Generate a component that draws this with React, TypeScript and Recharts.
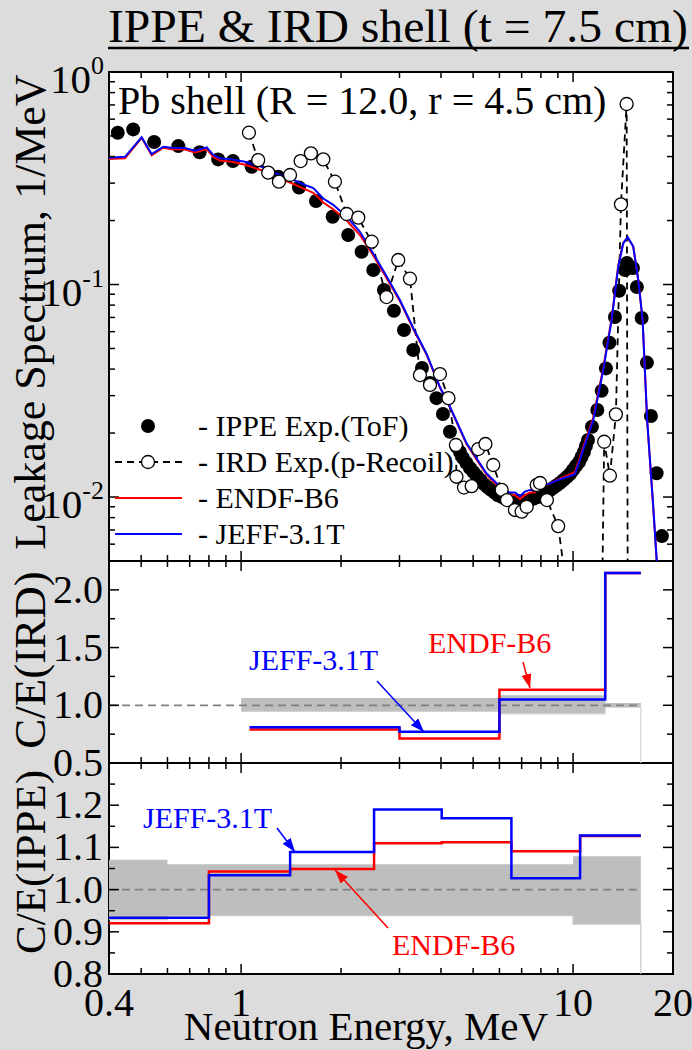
import React from "react";
import {
  ComposedChart,
  Line,
  Scatter,
  Area,
  XAxis,
  YAxis,
  Legend,
} from "recharts";

const FONT = "'Liberation Serif', 'Times New Roman', Times, serif";
const W = 692;
const H = 1050;
const PLOT_LEFT = 109;
const PLOT_RIGHT = 673;
const TOP = { top: 72, bottom: 561 };
const MID = { top: 561, bottom: 763 };
const BOT = { top: 763, bottom: 974 };

// ---- shared energy axis ----
const xTicks = [0.4, 0.5, 0.6, 0.7, 0.8, 0.9, 1, 2, 3, 4, 5, 6, 7, 8, 9, 10, 20];
const xMajor = [1, 10];
const xLabels = [0.4, 1, 10, 20];

// ---- top panel: leakage spectrum ----
const specTicks = [
  0.005, 0.006, 0.007, 0.008, 0.009, 0.01, 0.02, 0.03, 0.04, 0.05, 0.06, 0.07,
  0.08, 0.09, 0.1, 0.2, 0.3, 0.4, 0.5, 0.6, 0.7, 0.8, 0.9, 1,
];
const specMajor = [0.01, 0.1, 1];

const ippeE = [
  0.425, 0.473, 0.547, 0.647, 0.75, 0.853, 0.945, 1.076, 1.294, 1.494, 1.681,
  1.887, 2.102, 2.307, 2.501, 2.693, 2.886, 3.095, 3.301, 3.506, 3.707, 3.877,
  4.055, 4.257, 4.46, 4.562, 4.66, 4.773, 4.89, 5.01, 5.13, 5.26, 5.39, 5.52,
  5.656, 5.8, 5.94, 6.107, 6.28, 6.452, 6.64, 6.82, 7.01, 7.21, 7.41, 7.62,
  7.84, 8.06, 8.29, 8.49, 8.7, 8.91, 9.13, 9.35, 9.58, 9.79, 9.99, 10.2, 10.42,
  10.6, 10.78, 10.93, 11.09, 11.4, 11.83, 12.19, 12.56, 12.87, 13.37, 13.77,
  14.33, 14.53, 15.15, 15.57, 16.09, 16.69, 17.16, 17.85, 18.52,
];
const ippeV = [
  0.518, 0.537, 0.4685, 0.448, 0.419, 0.388, 0.381, 0.358, 0.3215, 0.286,
  0.247, 0.2085, 0.171, 0.1427, 0.117, 0.0942, 0.0753, 0.0611, 0.0492, 0.0405,
  0.0344, 0.0292, 0.0246, 0.0203, 0.01725, 0.01628, 0.01526, 0.01445, 0.0137,
  0.0131, 0.01256, 0.01202, 0.0115, 0.01114, 0.0108, 0.0105, 0.0102, 0.01,
  0.00979, 0.00968, 0.00958, 0.00953, 0.00958, 0.00958, 0.00968, 0.00984, 0.01,
  0.0102, 0.01044, 0.01073, 0.01102, 0.01133, 0.01164, 0.01202, 0.01242,
  0.01283, 0.0134, 0.014, 0.0146, 0.01543, 0.0163, 0.01738, 0.01854, 0.0214,
  0.02567, 0.0316, 0.0403, 0.0532, 0.0703, 0.0935, 0.117, 0.1263, 0.1196,
  0.0973, 0.0696, 0.0429, 0.02405, 0.01293, 0.00655,
];

const irdE = [
  1.056, 1.126, 1.207, 1.3, 1.404, 1.511, 1.623, 1.768, 1.917, 2.08, 2.254,
  2.474, 2.741, 2.974, 3.226, 3.457, 3.707, 3.972, 4.213, 4.437, 4.453, 4.692,
  4.949, 5.178, 5.445, 5.748, 6.092, 6.322, 6.681, 7.0, 7.248, 7.77, 7.95,
  8.34, 9.02, 9.79, 12.13, 12.41, 12.91, 13.46, 13.94, 14.5, 14.68,
];
const irdV = [
  0.518, 0.385, 0.336, 0.3046, 0.3276, 0.381, 0.4143, 0.388, 0.3046, 0.2147,
  0.2063, 0.159, 0.0873, 0.1304, 0.1065, 0.0375, 0.0337, 0.0379, 0.0292,
  0.01757, 0.01246, 0.01108, 0.01126, 0.01682, 0.01776, 0.01415, 0.0108,
  0.00968, 0.00869, 0.00853, 0.009, 0.01139, 0.01164, 0.00968, 0.0073, 0.0028,
  0.0013, 0.0182, 0.0126, 0.0245, 0.2384, 0.707, 0.0001,
];

const calcE = [
  0.4, 0.447, 0.5017, 0.5377, 0.5829, 0.6178, 0.6775, 0.726, 0.7877, 0.8245,
  0.8636, 0.9367, 1.027, 1.153, 1.265, 1.404, 1.557, 1.65, 1.768, 1.895, 2.08,
  2.28, 2.501, 2.745, 3.009, 3.301, 3.622, 3.972, 4.257, 4.779, 5.49, 6.02,
  6.45, 6.68, 6.92, 7.16, 7.41, 7.675, 7.95, 8.52, 9.13, 10.13, 11.5, 12.33,
  13.07, 13.68, 14.16, 14.6, 15.18, 15.72, 16.2, 16.72, 17.44, 18.52,
];
const jeffV = [
  0.395, 0.399, 0.493, 0.411, 0.445, 0.44, 0.439, 0.426, 0.442, 0.407, 0.393,
  0.388, 0.378, 0.358, 0.334, 0.316, 0.294, 0.284, 0.254, 0.237, 0.2085, 0.177,
  0.14, 0.109, 0.0846, 0.0624, 0.0471, 0.0329, 0.0266, 0.0179, 0.0129, 0.0112,
  0.0105, 0.0105, 0.0101, 0.0106, 0.0108, 0.0107, 0.0112, 0.0116, 0.0121,
  0.0128, 0.023, 0.0396, 0.0681, 0.121, 0.156, 0.167, 0.151, 0.105, 0.0681,
  0.023, 0.009, 0.0021,
];
const endfV = [
  0.39, 0.393, 0.49, 0.405, 0.44, 0.433, 0.432, 0.418, 0.434, 0.398, 0.383,
  0.378, 0.366, 0.345, 0.322, 0.302, 0.281, 0.27, 0.243, 0.226, 0.2, 0.171,
  0.137, 0.107, 0.0835, 0.0618, 0.0467, 0.0327, 0.0264, 0.0177, 0.0127, 0.011,
  0.0103, 0.0102, 0.0098, 0.0102, 0.0105, 0.0105, 0.011, 0.0116, 0.0122,
  0.0131, 0.0236, 0.0405, 0.0695, 0.123, 0.157, 0.167, 0.151, 0.105, 0.068,
  0.0228, 0.0089, 0.0021,
];

// ---- middle panel: C/E vs IRD ----
const ceIrdTicks = [0.5, 0.75, 1, 1.25, 1.5, 1.75, 2];
const ceIrdE = [1.06, 3.0, 6.0, 12.5, 16.0];
const endfIrd = [0.79, 0.713, 1.135, 2.147, 2.147];
const jeffIrd = [0.81, 0.77, 1.05, 2.147, 2.147];
const bandIrdE = [1.0, 6.0, 12.5, 16.0];
const bandIrdLo = [0.948, 0.926, 0.983, 0.983];
const bandIrdHi = [1.064, 1.086, 1.02, 1.02];

// ---- bottom panel: C/E vs IPPE ----
const ceIppeTicks = [0.8, 0.85, 0.9, 0.95, 1, 1.05, 1.1, 1.15, 1.2, 1.25, 1.3];
const ceIppeE = [0.4, 0.8, 1.405, 2.515, 4.02, 6.52, 10.5, 16.0];
const endfIppe = [0.92, 1.043, 1.049, 1.11, 1.112, 1.091, 1.127, 1.127];
const jeffIppe = [0.933, 1.034, 1.089, 1.19, 1.169, 1.027, 1.128, 1.128];
const bandIppeE = [0.4, 0.6, 10.0, 16.0];
const bandIppeLo = [0.929, 0.938, 0.918, 0.918];
const bandIppeHi = [1.071, 1.06, 1.079, 1.079];

const unityE = [0.4, 16.0];
const unityV = [1, 1];

const pts = (xs: number[], ys: number[]) => xs.map((e, i) => ({ e, v: ys[i] }));
const band = (xs: number[], lo: number[], hi: number[]) =>
  xs.map((e, i) => ({ e, range: [lo[i], hi[i]] }));
// lower band edge; the last point drops to the floor like the original fill outline
const bandEdge = (xs: number[], lo: number[]) =>
  xs.map((e, i) => ({ e, v: i === xs.length - 1 ? 0.01 : lo[i] }));

const legendRows = [
  { label: "- IPPE Exp.(ToF)", kind: "dot", color: "#000" },
  { label: "- IRD Exp.(p-Recoil)", kind: "dash", color: "#000" },
  { label: "- ENDF-B6", kind: "line", color: "#ff0000" },
  { label: "- JEFF-3.1T", kind: "line", color: "#0000ff" },
];

const isTenth = (v: number) => Math.abs(v * 10 - Math.round(v * 10)) < 1e-6;
const isHalf = (v: number) => Math.abs(v * 2 - Math.round(v * 2)) < 1e-6;

const makeXTick = (panel: { top: number; bottom: number }, withLabels: boolean) =>
  (props: any) => {
    const { x, payload } = props;
    const v = payload.value;
    const len = xMajor.some((m) => Math.abs(m - v) < 1e-9) ? 10 : 6;
    const showLabel = withLabels && xLabels.some((m) => Math.abs(m - v) < 1e-9);
    return (
      <g>
        <line x1={x} x2={x} y1={panel.bottom} y2={panel.bottom - len} stroke="#000" strokeWidth={1.5} />
        <line x1={x} x2={x} y1={panel.top} y2={panel.top + len} stroke="#000" strokeWidth={1.5} />
        {showLabel && (
          <text x={x} y={panel.bottom + 42} textAnchor="middle" fontFamily={FONT} fontSize={40} fill="#000">
            {String(v)}
          </text>
        )}
      </g>
    );
  };

const makeYTick = (isMajor: (v: number) => boolean, label: (v: number, y: number) => React.ReactNode) =>
  (props: any) => {
    const { y, payload } = props;
    const v = payload.value;
    const major = isMajor(v);
    const len = major ? 10 : 6;
    return (
      <g>
        <line x1={PLOT_LEFT} x2={PLOT_LEFT + len} y1={y} y2={y} stroke="#000" strokeWidth={1.5} />
        <line x1={PLOT_RIGHT} x2={PLOT_RIGHT - len} y1={y} y2={y} stroke="#000" strokeWidth={1.5} />
        {major ? label(v, y) : null}
      </g>
    );
  };

const specTick = makeYTick(
  (v) => specMajor.some((m) => Math.abs(m - v) < 1e-9),
  (v, y) => (
    <text x={104} y={y + 21} textAnchor="end" fontFamily={FONT} fontSize={41} fill="#000">
      10
      <tspan dy={-19} fontSize={26}>
        {String(Math.round(Math.log10(v)))}
      </tspan>
    </text>
  )
);

const ceTick = (top: number) =>
  makeYTick(
    (v) => (top > 2 ? isHalf(v) : isTenth(v)),
    (v, y) =>
      v >= top - 1e-9 ? null : (
        <text x={103} y={y + 13} textAnchor="end" fontFamily={FONT} fontSize={40} fill="#000">
          {v.toFixed(1)}
        </text>
      )
  );

const FilledDot = (p: any) => <circle cx={p.cx} cy={p.cy} r={7} fill="#000" />;
const OpenDot = (p: any) => (
  <circle key={`ird-${p.index}`} cx={p.cx} cy={p.cy} r={6.5} fill="#fff" stroke="#000" strokeWidth={1.3} />
);

const renderLegend = () => (
  <svg width={340} height={145} style={{ display: "block", overflow: "visible" }}>
    {legendRows.map((row, i) => {
      const cy = 18 + i * 36;
      return (
        <g key={row.label}>
          {row.kind === "dot" && <circle cx={36} cy={cy} r={7} fill="#000" />}
          {row.kind === "dash" && (
            <g>
              <line x1={3} x2={70} y1={cy} y2={cy} stroke="#000" strokeWidth={1.8} strokeDasharray="7 5" />
              <circle cx={36} cy={cy} r={6.5} fill="#fff" stroke="#000" strokeWidth={1.3} />
            </g>
          )}
          {row.kind === "line" && (
            <line x1={3} x2={70} y1={cy} y2={cy} stroke={row.color} strokeWidth={2} />
          )}
          <text x={86} y={cy + 10} fontFamily={FONT} fontSize={30} fill="#000">
            {row.label}
          </text>
        </g>
      );
    })}
  </svg>
);

// the x axis keeps a 1px band (an axis of zero height is not drawn at all)
const chartMargin = (panel: { top: number; bottom: number }) => ({
  top: panel.top,
  right: W - PLOT_RIGHT,
  bottom: H - panel.bottom - 1,
  left: 0,
});

const xAxisProps = {
  dataKey: "e",
  type: "number" as const,
  scale: "log" as const,
  domain: [0.4, 20],
  allowDataOverflow: true,
  ticks: xTicks,
  interval: 0 as const,
  tickLine: false,
  axisLine: false,
  tickSize: 0,
  tickMargin: 0,
  height: 1,
};

const PlotFrame = ({ panel }: { panel: { top: number; bottom: number } }) => (
  <div
    style={{
      position: "absolute",
      left: PLOT_LEFT - 1,
      top: panel.top - 1,
      width: PLOT_RIGHT - PLOT_LEFT + 2,
      height: panel.bottom - panel.top + 2,
      background: "#fff",
      border: "2px solid #000",
      boxSizing: "border-box",
    }}
  />
);

const layer: React.CSSProperties = { position: "absolute", left: 0, top: 0 };

export default function App() {
  return (
    <div style={{ position: "absolute", left: 0, top: 0, width: W, height: H, background: "#dcdcdc", overflow: "hidden" }}>
      <PlotFrame panel={TOP} />
      <PlotFrame panel={MID} />
      <PlotFrame panel={BOT} />

      {/* leakage spectrum */}
      <div style={layer}>
        <ComposedChart width={W} height={H} margin={chartMargin(TOP)}>
          <XAxis {...xAxisProps} tick={makeXTick(TOP, false)} />
          <YAxis
            dataKey="v"
            type="number"
            scale="log"
            domain={[0.005, 1]}
            allowDataOverflow
            ticks={specTicks}
            interval={0}
            tick={specTick}
            tickLine={false}
            axisLine={false}
            tickSize={0}
            tickMargin={0}
            width={PLOT_LEFT}
          />
          <Scatter name="IPPE Exp.(ToF)" data={pts(ippeE, ippeV)} shape={FilledDot} isAnimationActive={false} zIndex={300} />
          <Line
            name="IRD Exp.(p-Recoil)"
            data={pts(irdE, irdV)}
            dataKey="v"
            type="linear"
            stroke="#000"
            strokeWidth={1.8}
            strokeDasharray="7 5"
            dot={OpenDot}
            activeDot={false}
            isAnimationActive={false}
            zIndex={350}
          />
          <Line name="ENDF-B6" data={pts(calcE, endfV)} dataKey="v" type="linear" stroke="#ff0000" strokeWidth={2} dot={false} isAnimationActive={false} zIndex={400} />
          <Line name="JEFF-3.1T" data={pts(calcE, jeffV)} dataKey="v" type="linear" stroke="#0000ff" strokeWidth={2} dot={false} isAnimationActive={false} zIndex={410} />
          <Legend
            content={renderLegend}
            layout="horizontal"
            verticalAlign="middle"
            align="center"
            wrapperStyle={{ left: 112, top: 408, width: 340, height: 145 }}
          />
        </ComposedChart>
      </div>

      {/* C/E against IRD */}
      <div style={layer}>
        <ComposedChart width={W} height={H} margin={chartMargin(MID)}>
          <XAxis {...xAxisProps} tick={makeXTick(MID, false)} />
          <YAxis
            type="number"
            domain={[0.5, 2.25]}
            allowDataOverflow
            ticks={ceIrdTicks}
            interval={0}
            tick={ceTick(2.25)}
            tickLine={false}
            axisLine={false}
            tickSize={0}
            tickMargin={0}
            width={PLOT_LEFT}
          />
          <Area data={band(bandIrdE, bandIrdLo, bandIrdHi)} dataKey="range" type="stepAfter" fill="#bebebe" fillOpacity={1} stroke="none" isAnimationActive={false} />
          <Line data={bandEdge(bandIrdE, bandIrdLo)} dataKey="v" type="stepAfter" stroke="#d2d2d2" strokeWidth={1.2} dot={false} isAnimationActive={false} />
          <Line data={pts(unityE, unityV)} dataKey="v" type="linear" stroke="#808080" strokeWidth={1.8} strokeDasharray="8 5" dot={false} isAnimationActive={false} />
          <Line data={pts(ceIrdE, endfIrd)} dataKey="v" type="stepAfter" stroke="#ff0000" strokeWidth={2.5} dot={false} isAnimationActive={false} />
          <Line data={pts(ceIrdE, jeffIrd)} dataKey="v" type="stepAfter" stroke="#0000ff" strokeWidth={2.5} dot={false} isAnimationActive={false} />
        </ComposedChart>
      </div>

      {/* C/E against IPPE */}
      <div style={layer}>
        <ComposedChart width={W} height={H} margin={chartMargin(BOT)}>
          <XAxis {...xAxisProps} tick={makeXTick(BOT, true)} />
          <YAxis
            type="number"
            domain={[0.8, 1.3]}
            allowDataOverflow
            ticks={ceIppeTicks}
            interval={0}
            tick={ceTick(1.3)}
            tickLine={false}
            axisLine={false}
            tickSize={0}
            tickMargin={0}
            width={PLOT_LEFT}
          />
          <Area data={band(bandIppeE, bandIppeLo, bandIppeHi)} dataKey="range" type="stepAfter" fill="#bebebe" fillOpacity={1} stroke="none" isAnimationActive={false} />
          <Line data={bandEdge(bandIppeE, bandIppeLo)} dataKey="v" type="stepAfter" stroke="#c8c8c8" strokeWidth={1.2} dot={false} isAnimationActive={false} />
          <Line data={pts(unityE, unityV)} dataKey="v" type="linear" stroke="#808080" strokeWidth={1.8} strokeDasharray="8 5" dot={false} isAnimationActive={false} />
          <Line data={pts(ceIppeE, endfIppe)} dataKey="v" type="stepAfter" stroke="#ff0000" strokeWidth={2.5} dot={false} isAnimationActive={false} />
          <Line data={pts(ceIppeE, jeffIppe)} dataKey="v" type="stepAfter" stroke="#0000ff" strokeWidth={2.5} dot={false} isAnimationActive={false} />
        </ComposedChart>
      </div>

      {/* titles and annotations */}
      <svg width={W} height={H} style={{ ...layer, pointerEvents: "none" }} fontFamily={FONT}>
        <defs>
          <marker id="arrowBlue" viewBox="0 0 14 10" refX="14" refY="5" markerWidth="14" markerHeight="10" markerUnits="userSpaceOnUse" orient="auto">
            <path d="M0,0 L14,5 L0,10 z" fill="#0000ff" />
          </marker>
          <marker id="arrowRed" viewBox="0 0 14 10" refX="14" refY="5" markerWidth="14" markerHeight="10" markerUnits="userSpaceOnUse" orient="auto">
            <path d="M0,0 L14,5 L0,10 z" fill="#ff0000" />
          </marker>
        </defs>
        <text x={108} y={42} fontSize={46} textLength={580} lengthAdjust="spacingAndGlyphs" fill="#000">
          {"IPPE & IRD shell (t = 7.5 cm)"}
        </text>
        <line x1={108} x2={689} y1={48} y2={48} stroke="#000" strokeWidth={2.5} />
        <text x={118} y={114} fontSize={40} fill="#000">
          Pb shell (R = 12.0, r = 4.5 cm)
        </text>
        <text transform="translate(45,312) rotate(-90)" textAnchor="middle" fontSize={44} fill="#000">
          Leakage Spectrum, 1/MeV
        </text>
        <text transform="translate(45,660) rotate(-90)" textAnchor="middle" fontSize={45} fill="#000">
          C/E(IRD)
        </text>
        <text transform="translate(45,862) rotate(-90)" textAnchor="middle" fontSize={43} fill="#000">
          C/E(IPPE)
        </text>
        <text x={366} y={1040} textAnchor="middle" fontSize={41} fill="#000">
          Neutron Energy, MeV
        </text>

        <text x={249} y={670} fontSize={30} fill="#0000ff">JEFF-3.1T</text>
        <line x1={377} y1={681} x2={424} y2={732} stroke="#0000ff" strokeWidth={1.5} markerEnd="url(#arrowBlue)" />
        <text x={428} y={653} fontSize={30} fill="#ff0000">ENDF-B6</text>
        <line x1={523} y1={662} x2={530} y2={688} stroke="#ff0000" strokeWidth={1.5} markerEnd="url(#arrowRed)" />

        <text x={143} y={828} fontSize={30} fill="#0000ff">JEFF-3.1T</text>
        <line x1={277} y1={828} x2={295} y2={852} stroke="#0000ff" strokeWidth={1.5} markerEnd="url(#arrowBlue)" />
        <text x={392} y={955} fontSize={30} fill="#ff0000">ENDF-B6</text>
        <line x1={388} y1={928} x2={335} y2={870} stroke="#ff0000" strokeWidth={1.5} markerEnd="url(#arrowRed)" />
      </svg>
    </div>
  );
}
